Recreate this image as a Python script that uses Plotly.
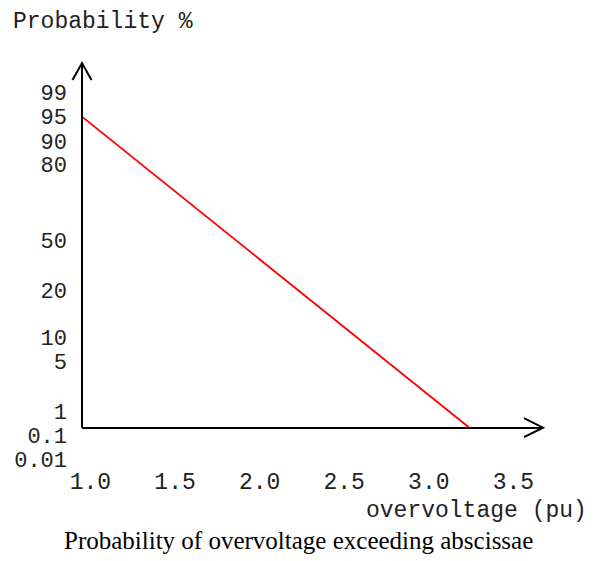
import plotly.graph_objects as go

# ---- data ----
# probability-paper tick labels and their position on the chart's probability scale
# (scale units: 0 = abscissa baseline, 100 = top of the ordinate)
prob_labels = ["99", "95", "90", "80", "50", "20", "10", "5", "1", "0.1", "0.01"]
prob_scale = [91.9, 85.3, 78.5, 72.1, 51.5, 37.8, 24.8, 18.2, 4.4, -2.1, -8.6]

x_ticks = [1.0, 1.5, 2.0, 2.5, 3.0, 3.5]

# red line: overvoltage (pu) vs position on probability scale
line_x = [0.95, 3.24]
line_y = [85.3, 0.0]

x_range = [0.95, 3.675]
y_range = [-10.5, 100.0]

OFF = 8  # page body margin of the html output
W, H = 599 - OFF, 561 - OFF
ML, MR, MT, MB = 82 - OFF, 56, 63 - OFF, 95
PW = W - ML - MR
PH = H - MT - MB


def px(xpix):
    return (xpix - OFF - ML) / PW


def py(ypix):
    return (H - MB - (ypix - OFF)) / PH


mono = "Courier New, Liberation Mono, monospace"
serif = "Times New Roman, Liberation Serif, serif"

fig = go.Figure()
fig.add_trace(go.Scatter(
    x=line_x, y=line_y, mode="lines",
    line=dict(color="#ff0000", width=1.8),
    hoverinfo="skip", showlegend=False,
))

fig.update_layout(
    width=W, height=H,
    margin=dict(l=ML, r=MR, t=MT, b=MB, pad=0, autoexpand=False),
    paper_bgcolor="white", plot_bgcolor="white",
    showlegend=False,
    xaxis=dict(
        range=x_range, showgrid=False, zeroline=False, showline=False,
        tickvals=x_ticks, ticktext=[f"{v:.1f}" for v in x_ticks],
        ticks="", ticklabelstandoff=-1, automargin=False,
        tickfont=dict(family=mono, size=23, color="#222"),
        fixedrange=True,
    ),
    yaxis=dict(
        range=y_range, showgrid=False, showline=False,
        zeroline=True, zerolinecolor="black", zerolinewidth=2,
        tickvals=prob_scale, ticktext=prob_labels,
        ticks="", ticklabelstandoff=14, automargin=False,
        tickfont=dict(family=mono, size=22, color="#222"),
        fixedrange=True,
    ),
    shapes=[
        # ordinate line from baseline up to the top
        dict(type="line", xref="paper", yref="y", x0=0, x1=0, y0=0, y1=y_range[1],
             line=dict(color="black", width=2)),
        # arrowhead on ordinate
        dict(type="path", xref="paper", yref="paper", xanchor=0, yanchor=1,
             xsizemode="pixel", ysizemode="pixel",
             path="M -9.5,-17 L 0,0 L 9.5,-17",
             line=dict(color="black", width=2)),
        # arrowhead on abscissa
        dict(type="path", xref="paper", yref="y", xanchor=1, yanchor=0,
             xsizemode="pixel", ysizemode="pixel",
             path="M -19,9.5 L 0,0 L -19,-9.5",
             line=dict(color="black", width=2)),
    ],
    annotations=[
        dict(text="Probability %", xref="paper", yref="paper",
             x=px(11), y=py(22), xanchor="left", yanchor="middle",
             showarrow=False, font=dict(family=mono, size=23, color="#222")),
        dict(text="overvoltage (pu)", xref="paper", yref="paper",
             x=px(589), y=py(511), xanchor="right", yanchor="middle",
             showarrow=False, font=dict(family=mono, size=23, color="#222")),
        dict(text="Probability of overvoltage exceeding abscissae", xref="paper", yref="paper",
             x=px(298), y=py(540), xanchor="center", yanchor="middle",
             showarrow=False, font=dict(family=serif, size=25, color="black")),
    ],
)

fig.write_html("out.html")
